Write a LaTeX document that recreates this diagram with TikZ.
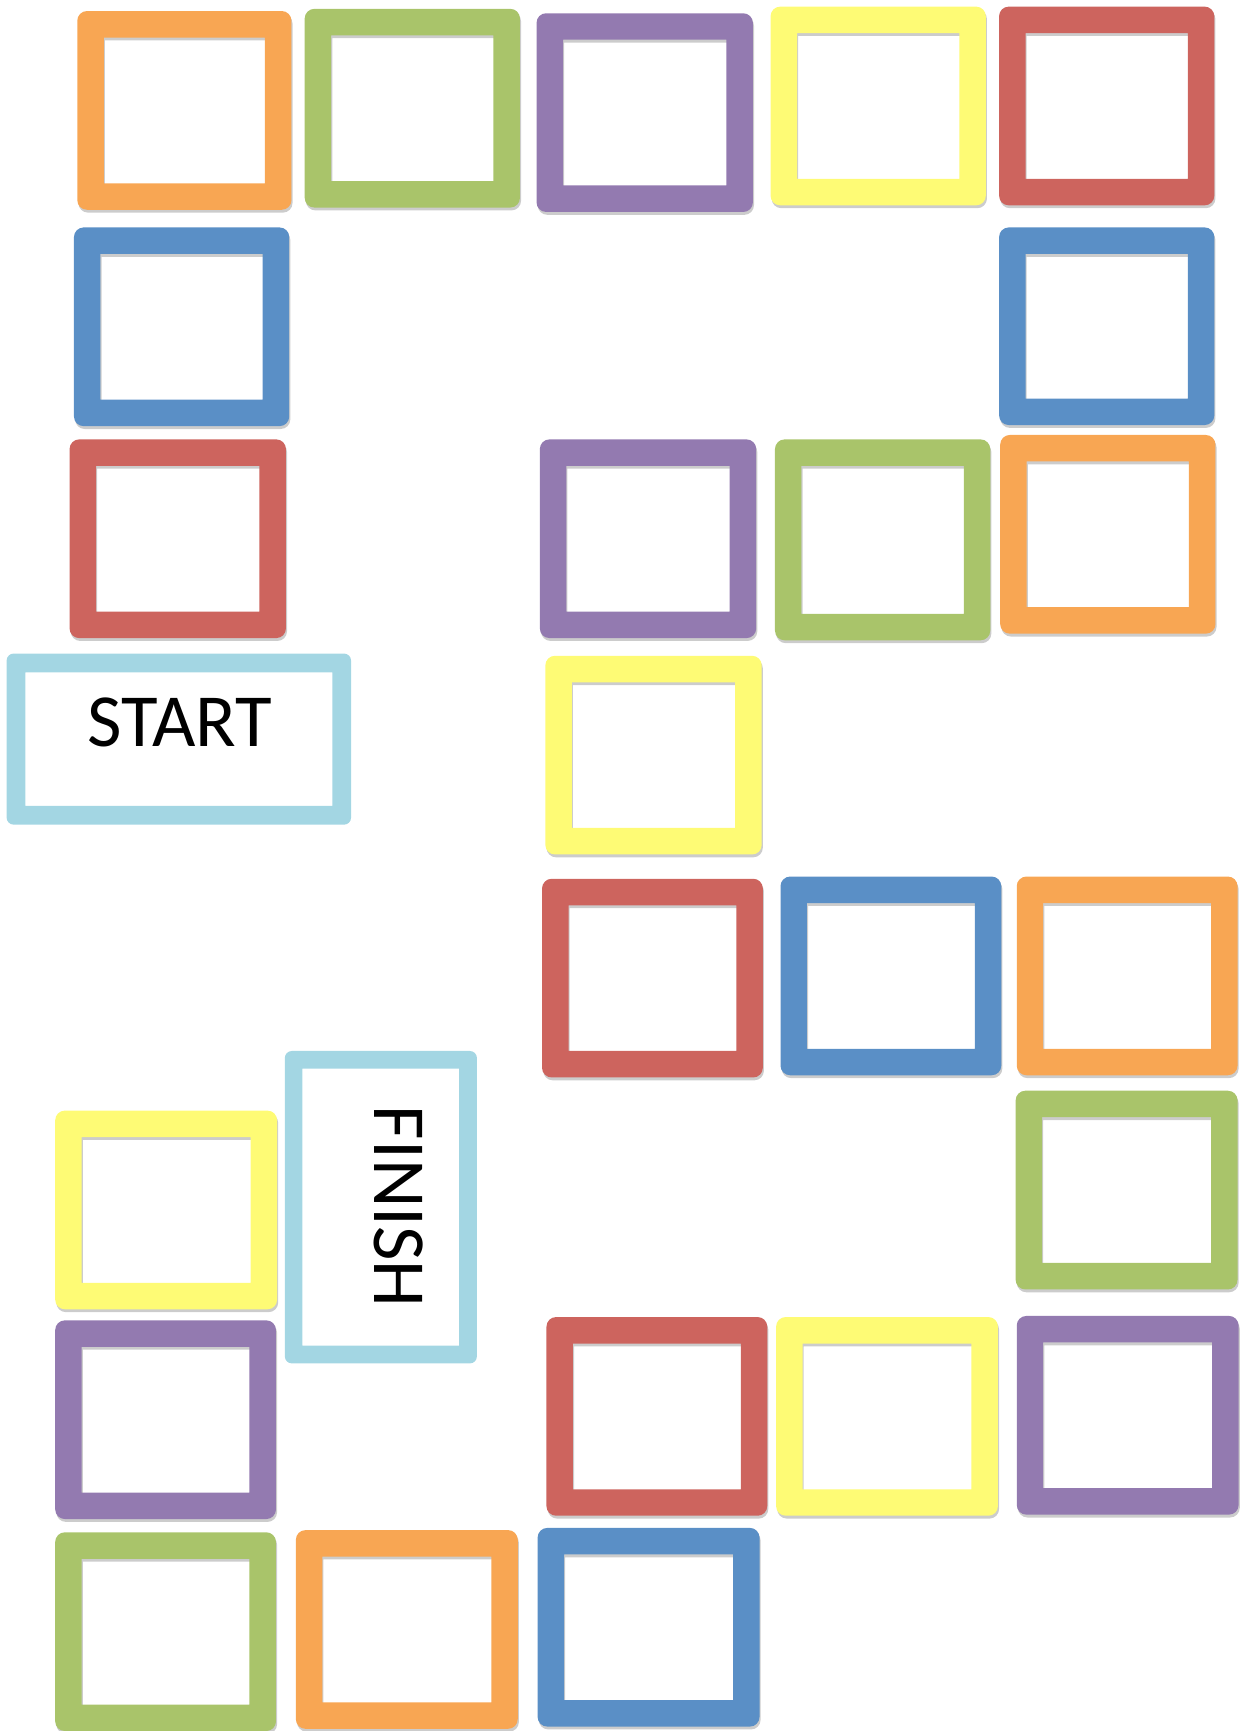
\documentclass[tikz,border=0pt]{standalone}
\usepackage{fontspec}
\setmainfont{Carlito}

\definecolor{tileorange}{HTML}{F8A653}
\definecolor{tilegreen}{HTML}{A9C46A}
\definecolor{tilepurple}{HTML}{937AB0}
\definecolor{tileyellow}{HTML}{FEFB75}
\definecolor{tilered}{HTML}{CD645E}
\definecolor{tileblue}{HTML}{5A8FC6}
\definecolor{tilecyan}{HTML}{A3D6E3}

\tikzset{
    tile/.style={even odd rule},
    tileshadow/.style={even odd rule, fill=black, fill opacity=0.2, shift={(1,2.6)}},
    endbox/.style={even odd rule, fill=tilecyan},
    label/.style={font=\fontsize{42.7}{50}\selectfont, inner sep=0pt}
}

\begin{document}
\begin{tikzpicture}[x=0.022088cm, y=-0.022088cm]

    \useasboundingbox (0,0) rectangle (1130,1568);

    % coloured tiles
    \foreach \xa/\ya/\xb/\yb/\c in {
        70/10/264/190/tileorange, 276/8/471/188/tilegreen,
        486/12/682/192/tilepurple, 698/6/893/186/tileyellow,
        905/6/1100/186/tilered,
        67/206/262/386/tileblue, 905/206/1100/385/tileblue,
        63/398/259/578/tilered, 489/398/685/578/tilepurple,
        702/398/897/580/tilegreen, 906/394/1101/574/tileorange,
        494/594/690/774/tileyellow,
        491/796/691/976/tilered, 707/794/907/974/tileblue,
        921/794/1121/974/tileorange,
        920/988/1121/1168/tilegreen,
        50/1006/251/1186/tileyellow,
        50/1196/250/1376/tilepurple, 495/1193/695/1373/tilered,
        703/1193/904/1373/tileyellow, 921/1192/1122/1372/tilepurple,
        50/1388/250/1568/tilegreen, 268/1386/469/1566/tileorange,
        487/1384/688/1564/tileblue} {
        \fill[tileshadow] [rounded corners=5.5pt] (\xa,\ya) rectangle (\xb,\yb)
            [sharp corners] (\xa+24,\ya+24) rectangle (\xb-24,\yb-24);
        \fill[tile, fill=\c] [rounded corners=5.5pt] (\xa,\ya) rectangle (\xb,\yb)
            [sharp corners] (\xa+24,\ya+24) rectangle (\xb-24,\yb-24);
    }

    % start and finish
    \fill[endbox] [rounded corners=4pt] (6,592) rectangle (318,747)
        [sharp corners] (23,609) rectangle (301,730);
    \fill[endbox] [rounded corners=4pt] (258,952) rectangle (432,1235)
        [sharp corners] (274,968) rectangle (416,1219);

    \node[label] (start) at (163,654) {START};
    \node[label, rotate=-90] (finish) at (361,1093) {FINISH};

\end{tikzpicture}
\end{document}
